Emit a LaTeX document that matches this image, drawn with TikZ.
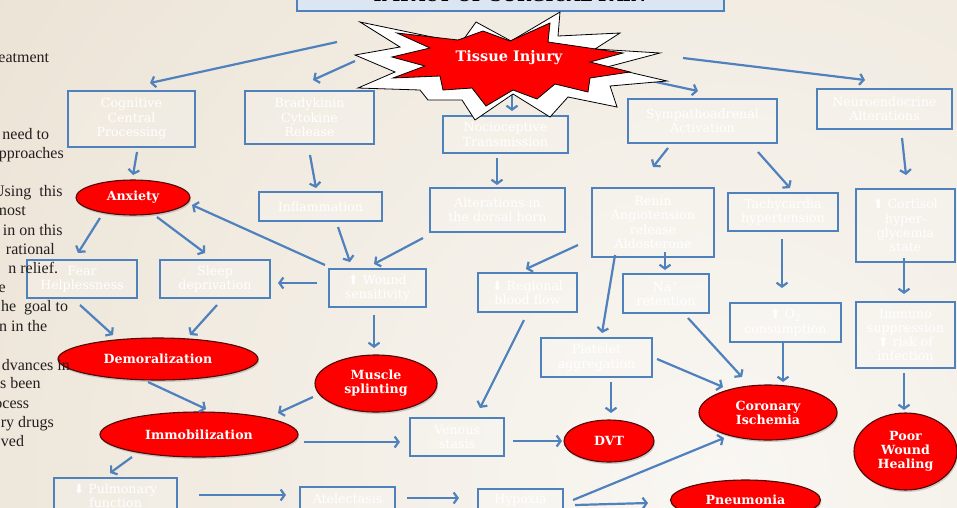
\documentclass[tikz,border=0pt]{standalone}
\usepackage{fontspec}
\newfontfamily\nodefont{DejaVu Serif}
\newfontfamily\leftfont{Liberation Serif}
\newfontfamily\symfont{DejaVu Sans}
\usetikzlibrary{shapes.geometric,arrows.meta,calc,shadows}
\definecolor{bluec}{RGB}{79,129,189}
\definecolor{bgout}{RGB}{226,213,192}
\definecolor{bgin}{RGB}{249,247,243}
\definecolor{titlefill}{RGB}{220,230,242}
\definecolor{ellborder}{RGB}{80,8,8}
\definecolor{lefttext}{RGB}{35,31,32}
\newcommand\myup{{\symfont ⬆}}
\newcommand\mydown{{\symfont ⬇}}
\tikzset{
 box/.style={draw=bluec, line width=1.3pt, fill=white, fill opacity=0.18, text opacity=1, text=white, align=center, inner sep=0pt, font=\nodefont\fontsize{12.6}{14.3}\selectfont},
 oval/.style={ellipse, draw=ellborder, line width=1.1pt, fill=red, text=white, align=center, inner sep=0pt, font=\nodefont\bfseries\fontsize{12.6}{14}\selectfont, drop shadow={shadow xshift=1pt, shadow yshift=-2pt, opacity=0.35}},
 arr/.style={draw=bluec, line width=2.2pt, -{Straight Barb[length=4pt,width=11pt]}},
 lefttxt/.style={anchor=base east, inner sep=0pt, font=\leftfont\fontsize{16}{18}\selectfont, text=lefttext},
 starline/.style={draw=black, line width=0.8pt, line join=miter},
}
\begin{document}
\begin{tikzpicture}[x=1pt,y=-1pt]
\useasboundingbox (0,0) rectangle (957,507);
% background
\fill[bgout] (0,0) rectangle (957,507);
\begin{scope}
\clip (0,0) rectangle (957,507);
\shade[inner color=bgin, outer color=bgout] (720,480) circle (1500);
\end{scope}
% title
\node[draw=bluec, fill=titlefill, line width=1.3pt, minimum width=427pt, minimum height=40pt, inner sep=0pt] (titlebox) at (510.5,-9) {};
\node[anchor=base, inner sep=0pt, font=\nodefont\bfseries\fontsize{17}{17}\selectfont] (title) at (510,1.5) {IMPACT OF SURGICAL PAIN};
% boxes
\node[box, minimum width=127pt, minimum height=56pt] (cog) at (131.5,119) {Cognitive\\Central\\Processing};
\node[box, minimum width=129pt, minimum height=53pt] (bra) at (309.5,117.5) {Bradykinin\\Cytokine\\Release};
\node[box, minimum width=125pt, minimum height=37pt] (noc) at (505.5,134.5) {Nocioceptive\\Transmission};
\node[box, minimum width=149pt, minimum height=44pt] (sym) at (702.5,121) {Sympathoadrenal\\Activation};
\node[box, minimum width=135pt, minimum height=40pt] (neu) at (884.5,109) {Neuroendocrine\\Alterations};
\node[box, minimum width=123pt, minimum height=29pt] (inf) at (320.5,206.5) {Inflammation};
\node[box, minimum width=135pt, minimum height=44pt] (alt) at (497.5,210) {Alterations in\\the dorsal horn};
\node[box, minimum width=122pt, minimum height=69pt] (ren) at (653,222.5) {Renin\\Angiotension\\release\\Aldosterone};
\node[box, minimum width=110pt, minimum height=38pt] (tac) at (783,212) {Tachycardia\\hypertension};
\node[box, minimum width=99pt, minimum height=73pt] (cor) at (905.5,225.5) {\myup\ Cortisol\\hyper-\\glycemia\\state};
\node[box, minimum width=110pt, minimum height=38pt] (fea) at (82,279) {Fear\\Helplessness};
\node[box, minimum width=110pt, minimum height=38pt] (sle) at (215,279) {Sleep\\deprivation};
\node[box, minimum width=97pt, minimum height=38pt] (wou) at (377.5,288) {\myup\ Wound\\sensitivity};
\node[box, minimum width=99pt, minimum height=39pt] (reg) at (527.5,292.5) {\mydown\ Regional\\blood flow};
\node[box, minimum width=86pt, minimum height=39pt] (nar) at (666,293.5) {Na\textsuperscript{+}\\retention};
\node[box, minimum width=111pt, minimum height=39pt] (oxy) at (785.5,322.5) {\myup\ O\textsubscript{2}\\consumption};
\node[box, minimum width=99pt, minimum height=66pt] (imm) at (905.5,335) {Immuno\\suppression\\\myup\ risk of\\infection};
\node[box, minimum width=111pt, minimum height=39pt] (pla) at (596.5,357.5) {Platelet\\aggregation};
\node[box, minimum width=94pt, minimum height=38pt] (ven) at (457,437) {Venous\\stasis};
\node[box, minimum width=123pt, minimum height=36pt] (pul) at (115.5,496) {\mydown\ Pulmonary\\function};
\node[box, minimum width=95pt, minimum height=24pt] (ate) at (347.5,499) {Atelectasis};
\node[box, minimum width=85pt, minimum height=22pt] (hyp) at (520.5,500) {Hypoxia};
% ellipses
\node[oval, minimum width=114pt, minimum height=35pt] (anx) at (133,197.5) {Anxiety};
\node[oval, minimum width=200pt, minimum height=42pt] (dem) at (158,359) {Demoralization};
\node[oval, minimum width=122pt, minimum height=57pt] (mus) at (376,383.5) {Muscle\\splinting};
\node[oval, minimum width=198pt, minimum height=45pt] (imb) at (199,434.5) {Immobilization};
\node[oval, minimum width=90pt, minimum height=42pt] (dvt) at (609,441) {DVT};
\node[oval, minimum width=138pt, minimum height=55pt] (cis) at (768,412.5) {Coronary\\Ischemia};
\node[oval, minimum width=103pt, minimum height=77pt] (pwh) at (905.5,451.5) {Poor\\Wound\\Healing};
\node[oval, minimum width=150pt, minimum height=40pt] (pne) at (745.5,500) {Pneumonia};
% star centre label position
\coordinate (ti) at (509,58);
% arrows
\draw[arr] ($(ti)+(-172,-16)$) -- ($(cog)+(18.5,-36)$);
\draw[arr] ($(ti)+(-154,3)$) -- ($(bra)+(3.5,-37.5)$);
\draw[arr] ($(ti)+(3,25)$) -- ($(noc)+(6.5,-23.5)$);
\draw[arr] ($(ti)+(133,21)$) -- ($(sym)+(-4.5,-30)$);
\draw[arr] ($(ti)+(174,0)$) -- ($(neu)+(-19.5,-29)$);
\draw[arr] ($(cog)+(5.5,33)$) -- ($(anx)+(0,-22.5)$);
\draw[arr] ($(bra)+(0.5,37.5)$) -- ($(inf)+(-4.5,-18.5)$);
\draw[arr] ($(noc)+(-8.5,23.5)$) -- ($(alt)+(-0.5,-25)$);
\draw[arr] ($(sym)+(-34.5,27)$) -- ($(ren)+(0,-55.5)$);
\draw[arr] ($(sym)+(55.5,31)$) -- ($(tac)+(7,-24)$);
\draw[arr] ($(neu)+(17.5,29)$) -- ($(cor)+(0.5,-50.5)$);
\draw[arr] ($(anx)+(-33,20.5)$) -- ($(fea)+(-4,-26)$);
\draw[arr] ($(anx)+(24,19.5)$) -- ($(sle)+(-10,-26)$);
\draw[arr] ($(wou)+(-52.5,-23)$) -- ($(anx)+(59,7.5)$);
\draw[arr] ($(wou)+(-60.5,-5)$) -- ($(sle)+(63,4)$);
\draw[arr] ($(inf)+(17.5,20.5)$) -- ($(wou)+(-27.5,-26)$);
\draw[arr] ($(alt)+(-74.5,28)$) -- ($(wou)+(-3.5,-24)$);
\draw[arr] ($(ren)+(-75,22.5)$) -- ($(reg)+(-1.5,-23.5)$);
\draw[arr] ($(ren)+(12,29.5)$) -- ($(nar)+(-1,-23.5)$);
\draw[arr] ($(ren)+(-38,32.5)$) -- ($(pla)+(5.5,-24.5)$);
\draw[arr] ($(tac)+(-1,27)$) -- ($(oxy)+(-3.5,-34.5)$);
\draw[arr] ($(cor)+(-1.5,32.5)$) -- ($(imm)+(-1.5,-41)$);
\draw[arr] ($(fea)+(-2,26)$) -- ($(dem)+(-45,-24)$);
\draw[arr] ($(sle)+(2,26)$) -- ($(dem)+(32,-24)$);
\draw[arr] ($(wou)+(-3.5,27)$) -- ($(mus)+(-2,-35.5)$);
\draw[arr] ($(reg)+(-3.5,27.5)$) -- ($(ven)+(23,-29)$);
\draw[arr] ($(nar)+(22,24.5)$) -- ($(cis)+(-26,-35.5)$);
\draw[arr] ($(oxy)+(-2.5,19.5)$) -- ($(cis)+(15,-30.5)$);
\draw[arr] ($(pla)+(14.5,24.5)$) -- ($(dvt)+(2,-28)$);
\draw[arr] ($(pla)+(60.5,1.5)$) -- ($(cis)+(-45,-25.5)$);
\draw[arr] ($(imm)+(-1.5,38)$) -- ($(pwh)+(-1.5,-41.5)$);
\draw[arr] ($(dem)+(-10,23)$) -- ($(imb)+(7,-25.5)$);
\draw[arr] ($(mus)+(-63,13.5)$) -- ($(imb)+(79,-21.5)$);
\draw[arr] ($(imb)+(105,7.5)$) -- ($(ven)+(-57,5)$);
\draw[arr] ($(ven)+(56,4)$) -- ($(dvt)+(-47,0)$);
\draw[arr] ($(imb)+(-67,22.5)$) -- ($(pul)+(-5.5,-23)$);
\draw[arr] ($(pul)+(83.5,-1)$) -- ($(ate)+(-61.5,-4)$);
\draw[arr] ($(ate)+(59.5,-1)$) -- ($(hyp)+(-61.5,-2)$);
\draw[arr] ($(hyp)+(52.5,0)$) -- ($(cis)+(-44,25.5)$);
\draw[arr] ($(hyp)+(54.5,5)$) -- ($(pne)+(-97.5,3)$);
% starburst
\draw[starline, fill=white] (360,22) -- (461,43) -- (476,22) -- (511,41) -- (560,12) -- (558,36) -- (620,33) -- (595,49) -- (660,53) -- (607,67) -- (667,81) -- (610,86) -- (617,107) -- (568,97) -- (550,117) -- (513,94) -- (475,120) -- (462,100) -- (428,100) -- (420,90) -- (358,88) -- (395,72) -- (355,55) -- (400,47) -- cycle;
\draw[starline, fill=red] (392,57) -- (430,48) -- (397,33) -- (458,40) -- (483,31) -- (510,41) -- (550,23) -- (548,42) -- (623,53) -- (590,62) -- (630,72) -- (590,78) -- (588,92) -- (555,84) -- (537,99) -- (513,90) -- (486,106) -- (472,88) -- (443,90) -- (440,76) -- (393,78) -- (425,66) -- cycle;
\node[text=white, inner sep=0pt, font=\nodefont\bfseries\fontsize{14.5}{16}\selectfont] (tissue) at (ti) {Tissue Injury};
% left text fragments
\node[lefttxt] (l1) at (49.3,62) {eatment};
\node[lefttxt] (l2) at (49.3,139) {need to};
\node[lefttxt] (l3) at (64,158) {pproaches};
\node[lefttxt] (l4) at (62.7,196.7) {Using~~this};
\node[lefttxt] (l5) at (26,215.7) {most};
\node[lefttxt] (l6) at (62.7,235) {in on this};
\node[lefttxt] (l7) at (55,254) {rational};
\node[lefttxt] (l8) at (58.3,273) {n relief.};
\node[lefttxt] (l9) at (6,292) {e};
\node[lefttxt] (l10) at (68.3,311.7) {he~~goal to};
\node[lefttxt] (l11) at (47.3,331) {n in the};
\node[lefttxt] (l12) at (70,370) {dvances in};
\node[lefttxt] (l13) at (40.7,388.5) {s been};
\node[lefttxt] (l14) at (29.3,408) {ocess};
\node[lefttxt] (l15) at (54,427.7) {ry drugs};
\node[lefttxt] (l16) at (24.3,446.7) {ved};
\end{tikzpicture}
\end{document}
